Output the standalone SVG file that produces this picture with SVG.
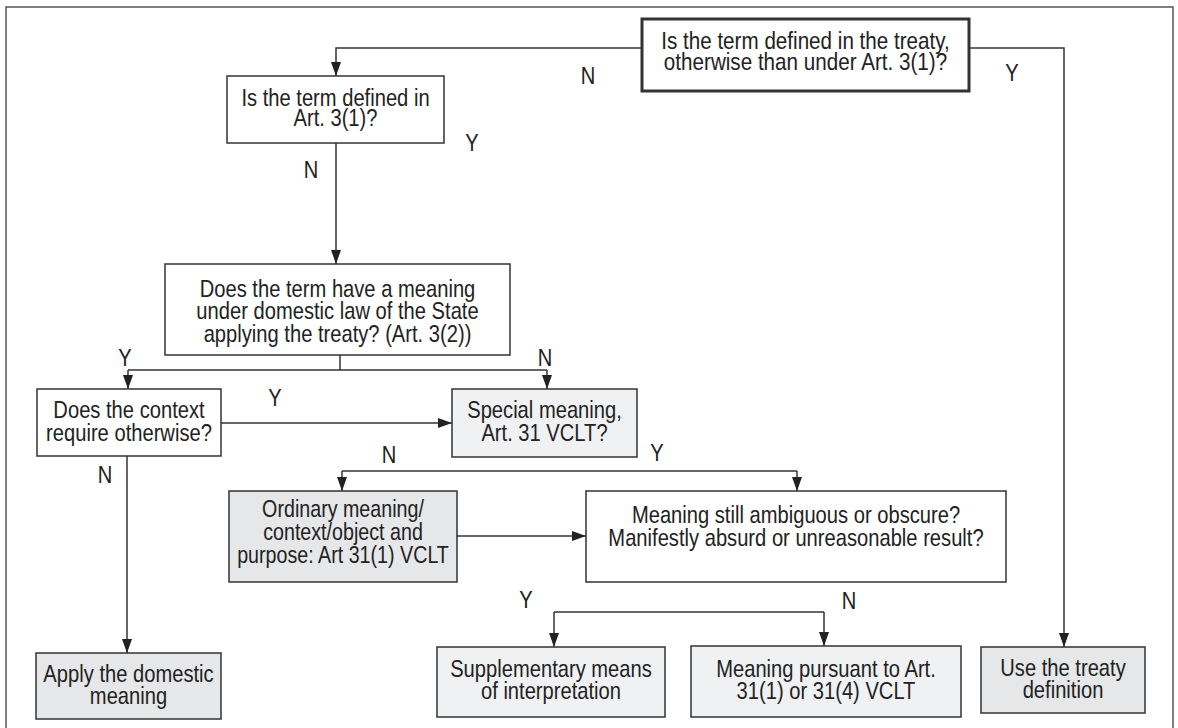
<svg xmlns="http://www.w3.org/2000/svg" width="1178" height="728" viewBox="0 0 1178 728">
<defs>
<marker id="arr" markerWidth="14" markerHeight="10" refX="14" refY="5" orient="auto" markerUnits="userSpaceOnUse">
<path d="M0,0 L14,5 L0,10 Z" fill="#222"/>
</marker>
<style>
.box{fill:#fff;stroke:#333;stroke-width:1.5}
.dark{fill:#e6e7e8}
.light{fill:#f0f1f2}
.thick{stroke-width:3}
text{font-family:"Liberation Sans",Arial,sans-serif;font-size:24px;fill:#222;text-anchor:middle}
.c{fill:none;stroke:#333;stroke-width:1.5}
.a{marker-end:url(#arr)}
</style>
</defs>
<rect width="1178" height="728" fill="#fff"/>
<path d="M6,728 V7 H1173 V728" fill="none" stroke="#555" stroke-width="1.5"/>

<g id="connectors">
<path class="c a" d="M642,48 H336 V76"/>
<path class="c a" d="M969,48 H1064 V647"/>
<path class="c a" d="M336,143 V264"/>
<path class="c" d="M340,355 V370 M128,370 H547"/>
<path class="c a" d="M128,370 V389"/>
<path class="c a" d="M547,370 V389"/>
<path class="c a" d="M221,423 H452"/>
<path class="c a" d="M127,456 V653"/>
<path class="c" d="M342,471 H797"/>
<path class="c a" d="M342,471 V491"/>
<path class="c a" d="M797,471 V491"/>
<path class="c a" d="M457,536 H586"/>
<path class="c" d="M554,612 H824"/>
<path class="c a" d="M554,612 V647"/>
<path class="c a" d="M824,612 V646"/>
<text transform="matrix(0.84 0 0 1 588 84)">N</text>
<text transform="matrix(0.84 0 0 1 1012 81)">Y</text>
<text transform="matrix(0.84 0 0 1 472 151)">Y</text>
<text transform="matrix(0.84 0 0 1 311 178)">N</text>
<text transform="matrix(0.84 0 0 1 125 366)">Y</text>
<text transform="matrix(0.84 0 0 1 545 366)">N</text>
<text transform="matrix(0.84 0 0 1 275 406)">Y</text>
<text transform="matrix(0.84 0 0 1 105 483)">N</text>
<text transform="matrix(0.84 0 0 1 389 463)">N</text>
<text transform="matrix(0.84 0 0 1 657 461)">Y</text>
<text transform="matrix(0.84 0 0 1 526 608)">Y</text>
<text transform="matrix(0.84 0 0 1 849 609)">N</text>
</g>

<g id="q-treaty">
<rect class="box thick" x="642" y="19" width="327" height="72"/>
<text transform="matrix(0.86 0 0 1 805.5 49)">Is the term defined in the treaty,</text>
<text transform="matrix(0.86 0 0 1 805.5 70)">otherwise than under Art. 3(1)?</text>
</g>
<g id="q-art31">
<rect class="box" x="227" y="76" width="217" height="67"/>
<text transform="matrix(0.84 0 0 1 335.5 106)">Is the term defined in</text>
<text transform="matrix(0.84 0 0 1 335.5 126)">Art. 3(1)?</text>
</g>
<g id="q-domestic">
<rect class="box" x="165" y="264" width="345" height="91"/>
<text transform="matrix(0.84 0 0 1 337.5 297)">Does the term have a meaning</text>
<text transform="matrix(0.84 0 0 1 337.5 319)">under domestic law of the State</text>
<text transform="matrix(0.84 0 0 1 337.5 342)">applying the treaty? (Art. 3(2))</text>
</g>
<g id="q-context">
<rect class="box" x="37" y="389" width="184" height="67"/>
<text transform="matrix(0.84 0 0 1 129 418)">Does the context</text>
<text transform="matrix(0.84 0 0 1 129 441)">require otherwise?</text>
</g>
<g id="q-special">
<rect class="box light" x="452" y="389" width="185" height="68"/>
<text transform="matrix(0.84 0 0 1 544.5 418)">Special meaning,</text>
<text transform="matrix(0.84 0 0 1 544.5 441)">Art. 31 VCLT?</text>
</g>
<g id="ordinary">
<rect class="box dark" x="229" y="491" width="228" height="91"/>
<text transform="matrix(0.82 0 0 1 343 517)">Ordinary meaning/</text>
<text transform="matrix(0.82 0 0 1 343 540)">context/object and</text>
<text transform="matrix(0.82 0 0 1 343 563)">purpose: Art 31(1) VCLT</text>
</g>
<g id="q-ambiguous">
<rect class="box" x="586" y="491" width="420" height="91"/>
<text transform="matrix(0.84 0 0 1 796 523)">Meaning still ambiguous or obscure?</text>
<text transform="matrix(0.84 0 0 1 796 546)">Manifestly absurd or unreasonable result?</text>
</g>
<g id="apply-domestic">
<rect class="box dark" x="36" y="653" width="185" height="66"/>
<text transform="matrix(0.84 0 0 1 128.5 682)">Apply the domestic</text>
<text transform="matrix(0.84 0 0 1 128.5 704)">meaning</text>
</g>
<g id="supplementary">
<rect class="box light" x="437" y="647" width="228" height="70"/>
<text transform="matrix(0.84 0 0 1 551 677)">Supplementary means</text>
<text transform="matrix(0.84 0 0 1 551 699)">of interpretation</text>
</g>
<g id="pursuant">
<rect class="box light" x="691" y="646" width="270" height="71"/>
<text transform="matrix(0.84 0 0 1 826 677)">Meaning pursuant to Art.</text>
<text transform="matrix(0.84 0 0 1 826 699)">31(1) or 31(4) VCLT</text>
</g>
<g id="use-treaty">
<rect class="box dark" x="981" y="647" width="164" height="66"/>
<text transform="matrix(0.84 0 0 1 1063 676)">Use the treaty</text>
<text transform="matrix(0.84 0 0 1 1063 698)">definition</text>
</g>
</svg>
